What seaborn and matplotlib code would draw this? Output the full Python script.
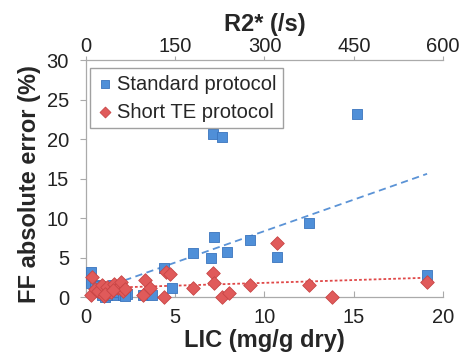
import numpy as np
import pandas as pd
import matplotlib
matplotlib.use('Agg')
import matplotlib.pyplot as plt
import seaborn as sns

# data
lic_std = [0.3, 0.3, 0.5, 0.7, 0.9, 1.0, 1.1, 1.3, 1.5, 1.6, 1.8, 2.0, 2.1, 2.3, 0.8, 1.2, 1.7, 2.2,
           3.2, 3.5, 3.7, 4.4, 4.8, 6.0, 7.0, 7.1, 7.2, 7.6, 7.9, 9.2, 10.7, 12.5, 15.2, 19.1]
ff_std = [3.2, 1.8, 1.5, 0.6, 0.2, 1.2, 0.0, 0.8, 1.5, 0.3, 0.6, 1.0, 0.2, 0.4, 1.4, 0.3, 1.1, 0.1,
          0.2, 0.5, 0.3, 3.7, 1.1, 5.6, 4.9, 20.6, 7.6, 20.3, 5.7, 7.2, 5.1, 9.4, 23.2, 2.8]

lic_short = [0.3, 0.35, 0.5, 0.7, 0.9, 1.0, 1.2, 1.4, 1.6, 1.8, 2.0, 2.1, 2.2, 1.1, 1.5,
             3.2, 3.3, 3.6, 4.4, 4.5, 4.7, 6.0, 7.1, 7.2, 7.6, 8.0, 9.2, 10.7, 12.5, 13.8, 19.1]
ff_short = [0.3, 2.5, 1.0, 0.8, 1.5, 0.1, 1.3, 0.6, 1.6, 1.2, 1.9, 0.7, 1.0, 0.4, 0.9,
            0.3, 2.1, 1.2, 0.0, 3.2, 2.9, 1.1, 3.1, 1.8, 0.0, 0.5, 1.5, 6.8, 1.5, 0.0, 1.9]

r2_ticks = [0, 150, 300, 450, 600]

std_df = pd.DataFrame({'lic': lic_std, 'ff': ff_std})
short_df = pd.DataFrame({'lic': lic_short, 'ff': ff_short})

sns.set_style('white')
plt.rcParams['font.family'] = ['Liberation Sans', 'DejaVu Sans']

blue = '#4f8fd8'
red = '#e05a5a'

fig = plt.figure(figsize=(4.66, 3.54), dpi=100)
ax = fig.add_axes([0.184, 0.161, 0.767, 0.669])

# trend lines
sns.regplot(data=std_df, x='lic', y='ff', ax=ax, ci=None, scatter=False,
            line_kws=dict(color='#5b93d6', lw=1.3, ls=(0, (4, 2.5))))
sns.regplot(data=short_df, x='lic', y='ff', ax=ax, ci=None, scatter=False,
            line_kws=dict(color='#e04848', lw=1.3, ls=(0, (1.5, 1.2))))

sns.scatterplot(data=std_df, x='lic', y='ff', ax=ax, marker='s', s=60, color=blue,
                edgecolor='#3a74bd', linewidth=0.6, label='Standard protocol', clip_on=False, zorder=3)
sns.scatterplot(data=short_df, x='lic', y='ff', ax=ax, marker='D', s=48, color=red,
                edgecolor='#c84545', linewidth=0.6, label='Short TE protocol', clip_on=False, zorder=4)

ax.set_xlim(0, 20)
ax.set_ylim(0, 30)
ax.set_xticks([0, 5, 10, 15, 20])
ax.set_yticks([0, 5, 10, 15, 20, 25, 30])
ax.set_xlabel('LIC (mg/g dry)', fontsize=17, fontweight='bold', labelpad=1)
ax.set_ylabel('FF absolute error (%)', fontsize=17, fontweight='bold')
ax.yaxis.set_label_coords(-0.125, 0.477)
ax.tick_params(axis='both', labelsize=14.5, colors='#222222')
ax.tick_params(axis='y', direction='out', length=4, color='#aaaaaa', width=0.8, left=True, pad=8)
ax.tick_params(axis='x', direction='in', length=4, color='#aaaaaa', width=0.8, bottom=True, pad=8)

for s in ['right', 'top']:
    ax.spines[s].set_visible(False)
for s in ['left', 'bottom']:
    ax.spines[s].set_color('#aaaaaa')
    ax.spines[s].set_linewidth(0.9)

# top axis in R2* units (R2* = 30 * LIC)
top = ax.secondary_xaxis('top', functions=(lambda v: v * 30, lambda v: v / 30))
top.set_xticks(r2_ticks)
top.set_xlabel('R2* (/s)', fontsize=17, fontweight='bold', labelpad=4)
top.tick_params(labelsize=14.5, direction='out', length=3, color='#aaaaaa', width=0.8, pad=0, colors='#222222')
top.spines['top'].set_color('#aaaaaa')
top.spines['top'].set_linewidth(0.9)

leg = ax.legend(loc='upper left', bbox_to_anchor=(0.012, 0.965), fontsize=14.5, frameon=True,
                fancybox=False, edgecolor='#888888', handletextpad=0.15, handlelength=0.9,
                borderpad=0.3, labelspacing=0.45, borderaxespad=0.0, markerscale=0.8)
leg.get_frame().set_linewidth(1.0)

fig.savefig('out.png', dpi=100)
